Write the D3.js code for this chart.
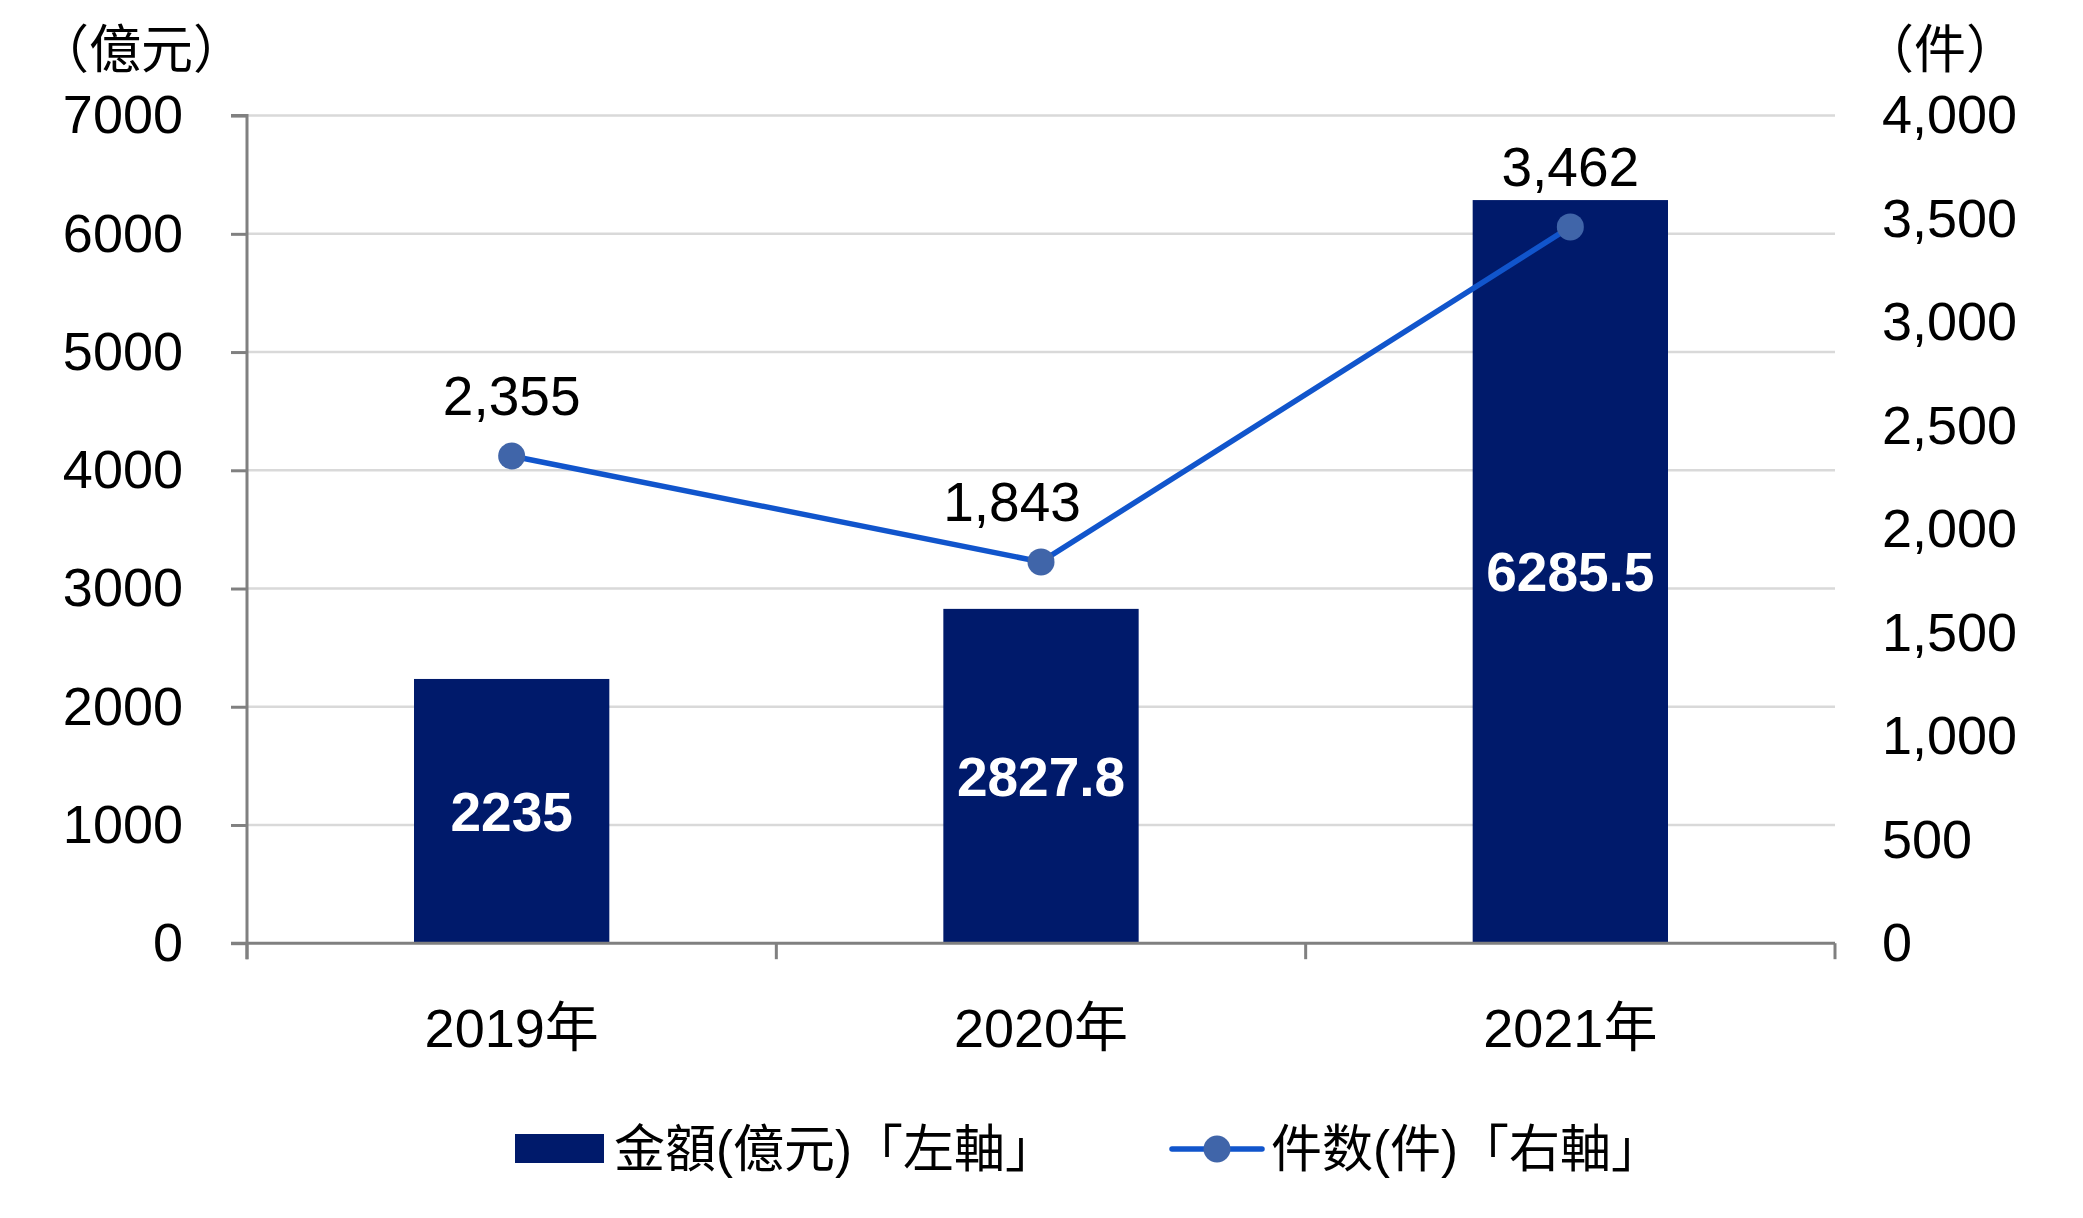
<!DOCTYPE html>
<html><head><meta charset="utf-8">
<script src="https://cdn.jsdelivr.net/npm/d3@7"></script>
<style>body{margin:0;background:#fff}</style>
</head><body><svg id="c" width="2083" height="1218"></svg>
<script>
const years = ["2019年","2020年","2021年"];
const amounts = [2235, 2827.8, 6285.5];
const amountLabels = ["2235","2827.8","6285.5"];
const counts = [2355, 1843, 3462];
const leftTicks = [0,1000,2000,3000,4000,5000,6000,7000];
const rightTicks = [0,500,1000,1500,2000,2500,3000,3500,4000];
const legendNames = ["金額(億元)「左軸」","件数(件)「右軸」"];
const unitLeft = "（億元）", unitRight = "（件）";

const FONT = "'Liberation Sans', Arial, 'Noto Sans CJK TC', sans-serif";
const svg = d3.select("#c");
const L=247, R=1835, T=115.6, B=943.2;
const x = d3.scaleBand().domain(years).range([L,R]).paddingInner(0.631).paddingOuter(0.3155);
const yL = d3.scaleLinear().domain([0,7000]).range([B,T]);
const yR = d3.scaleLinear().domain([0,4000]).range([B,T]);
const cx = d => x(d)+x.bandwidth()/2;

// gridlines
svg.append("g").selectAll("line").data(leftTicks.filter(d=>d>0)).join("line")
  .attr("x1",L).attr("x2",R).attr("y1",d=>yL(d)).attr("y2",d=>yL(d))
  .attr("stroke","#d9d9d9").attr("stroke-width",2.5);

// bars
svg.append("g").selectAll("rect").data(amounts).join("rect")
  .attr("x",(d,i)=>x(years[i])).attr("width",x.bandwidth())
  .attr("y",d=>yL(d)).attr("height",d=>B-yL(d)).attr("fill","#001a6b");

// left axis
const gl = svg.append("g").attr("transform",`translate(${L},0)`)
  .call(d3.axisLeft(yL).tickValues(leftTicks).tickSize(16).tickPadding(48).tickFormat(d3.format("d")));
gl.select(".domain").attr("stroke","#808080").attr("stroke-width",3).attr("d",`M-16,${T}H0V${B+16}`);
gl.selectAll(".tick line").attr("stroke","#808080").attr("stroke-width",3);
gl.selectAll("text").attr("font-family",FONT).attr("font-size",54).attr("fill","#000");

// right axis
const gr = svg.append("g").attr("transform",`translate(${R},0)`)
  .call(d3.axisRight(yR).tickValues(rightTicks).tickSize(0).tickPadding(47).tickFormat(d3.format(",")));
gr.select(".domain").remove();
gr.selectAll("text").attr("font-family",FONT).attr("font-size",54).attr("fill","#000");

// bottom axis
const gb = svg.append("g").attr("transform",`translate(0,${B})`)
  .call(d3.axisBottom(x).tickSize(0).tickPadding(65));
gb.select(".domain").remove();
gb.selectAll("text").attr("font-family",FONT).attr("font-size",54).attr("fill","#000");
svg.append("line").attr("x1",L-16).attr("x2",R).attr("y1",B).attr("y2",B).attr("stroke","#808080").attr("stroke-width",3);
const bounds = [L].concat(years.map(d=>x(d)+x.bandwidth()+x.step()*x.paddingInner()/2));
svg.append("g").selectAll("line").data(bounds).join("line")
  .attr("x1",d=>d).attr("x2",d=>d).attr("y1",B).attr("y2",B+16)
  .attr("stroke","#808080").attr("stroke-width",3);

// bar labels
svg.append("g").selectAll("text").data(amounts).join("text")
  .attr("x",(d,i)=>cx(years[i])).attr("y",d=>(yL(d)+B)/2).attr("dy","0.36em")
  .attr("text-anchor","middle").attr("font-family",FONT).attr("font-weight","bold")
  .attr("font-size",55).attr("fill","#fff").text((d,i)=>amountLabels[i]);

// line
const line = d3.line().x((d,i)=>cx(years[i])).y(d=>yR(d));
svg.append("path").datum(counts).attr("d",line).attr("fill","none")
  .attr("stroke","#1155cc").attr("stroke-width",5.5);
svg.append("g").selectAll("circle").data(counts).join("circle")
  .attr("cx",(d,i)=>cx(years[i])).attr("cy",d=>yR(d)).attr("r",13.5).attr("fill","#4065a9");
const labelDx=[0,-29,0];
svg.append("g").selectAll("text").data(counts).join("text")
  .attr("x",(d,i)=>cx(years[i])+labelDx[i]).attr("y",d=>yR(d)-61).attr("dy","0.36em")
  .attr("text-anchor","middle").attr("font-family",FONT).attr("font-size",55).attr("fill","#000")
  .text(d=>d3.format(",")(d));

// unit labels
svg.append("text").attr("x",37).attr("y",49).attr("dy","0.36em").attr("font-family",FONT)
  .attr("font-size",52).text(unitLeft);
svg.append("text").attr("x",1940).attr("y",49).attr("dy","0.36em").attr("text-anchor","middle")
  .attr("font-family",FONT).attr("font-size",52).text(unitRight);

// legend
const ly=1149;
svg.append("rect").attr("x",515).attr("y",ly-15).attr("width",89).attr("height",29).attr("fill","#001a6b");
svg.append("text").attr("x",614).attr("y",ly).attr("dy","0.36em").attr("font-family",FONT).attr("font-size",51).text(legendNames[0]);
svg.append("line").attr("x1",1172).attr("x2",1262).attr("y1",ly).attr("y2",ly).attr("stroke","#1155cc").attr("stroke-width",5.5).attr("stroke-linecap","round");
svg.append("circle").attr("cx",1217).attr("cy",ly).attr("r",13.5).attr("fill","#4065a9");
svg.append("text").attr("x",1271).attr("y",ly).attr("dy","0.36em").attr("font-family",FONT).attr("font-size",51).text(legendNames[1]);
</script></body></html>
